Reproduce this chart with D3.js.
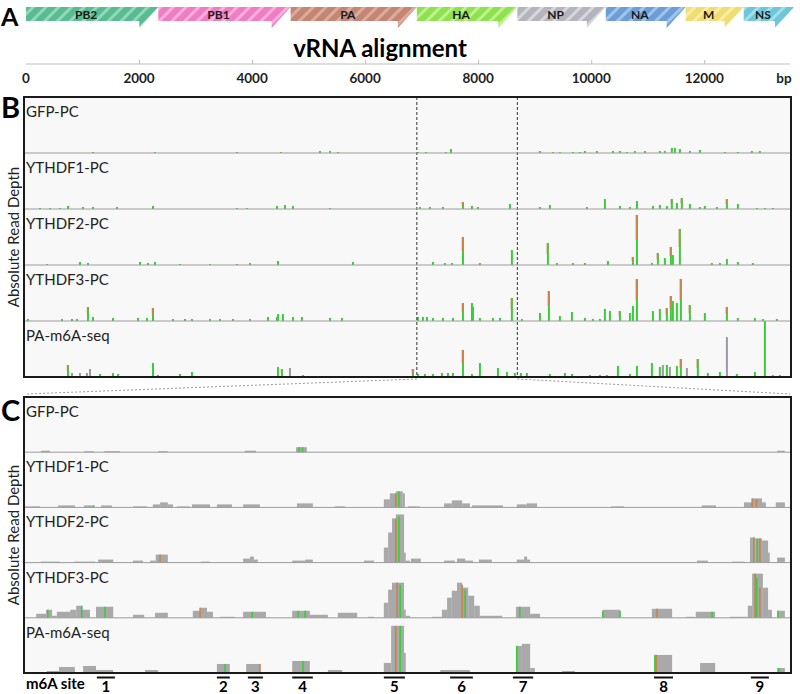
<!DOCTYPE html>
<html>
<head>
<meta charset="utf-8">
<script src="https://cdn.jsdelivr.net/npm/d3@7"></script>
<style>
  body { margin: 0; background: #fff; }
  svg text { font-family: Lato, "Open Sans", sans-serif; }
</style>
</head>
<body>
<svg id="fig" width="800" height="694"></svg>
<script>
// ---- data ----
var genes = ["PB2", "PB1", "PA", "HA", "NP", "NA", "M", "NS"];
var geneLengths = [2341, 2341, 2233, 1778, 1565, 1413, 1027, 890];
var axisTicks = [0, 2000, 4000, 6000, 8000, 10000, 12000];
var trackNames = ["GFP-PC", "YTHDF1-PC", "YTHDF2-PC", "YTHDF3-PC", "PA-m6A-seq"];

// whole genome peaks: [bp, depth, type]  g = green, b = green+brown, o = grey
var genomeGFP = [[1185,1,"g"],[2282,1,"g"],[3733,1,"g"],[4511,1,"g"],[5201,2,"g"],[5378,2,"g"],[5519,1,"g"],
  [6934,1,"g"],[7076,1,"g"],[7430,1,"g"],[7518,4,"g"],[9093,2,"g"],[9323,1,"g"],[9446,1,"g"],[9676,1,"g"],
  [9800,1,"g"],[9889,2,"g"],[10101,2,"g"],[10384,2,"g"],[10508,2,"g"],[10632,1,"g"],[10773,2,"g"],[10950,2,"g"],
  [11215,2,"g"],[11303,2,"g"],[11427,5,"g"],[11481,5,"g"],[11569,4,"g"],[11746,2,"g"],[11923,3,"g"],
  [12366,1,"g"],[12595,1,"g"],[12843,2,"g"],[12984,2,"g"]];
var genomeDF1 = [[248,1,"g"],[425,1,"g"],[601,1,"g"],[743,3,"g"],[1008,2,"g"],[1185,2,"g"],[1610,2,"g"],[2247,3,"g"],
  [3733,1,"g"],[3909,1,"g"],[4440,3,"g"],[4582,4,"g"],[4723,3,"g"],[5378,1,"g"],[6970,2,"g"],[7147,2,"g"],
  [7377,2,"g"],[7731,7,"b"],[7890,3,"g"],[7996,2,"g"],[8562,5,"g"],[9093,2,"g"],[9269,4,"g"],[9924,2,"g"],
  [10242,10,"g"],[10508,3,"g"],[10685,2,"g"],[10809,8,"g"],[11092,3,"g"],[11215,4,"g"],[11339,3,"g"],
  [11427,10,"b"],[11516,6,"g"],[11604,11,"b"],[11746,5,"g"],[11923,2,"g"],[12011,3,"g"],[12224,2,"g"],
  [12401,10,"b"],[12595,5,"g"],[12931,1,"g"],[13073,1,"g"],[13214,1,"g"]];
var genomeDF2 = [[371,1,"g"],[955,3,"g"],[1097,2,"g"],[2017,3,"g"],[2158,2,"g"],[2282,3,"g"],[2724,1,"g"],
  [3255,1,"g"],[3733,1,"g"],[3963,2,"g"],[4458,4,"g"],[5785,3,"g"],[7200,3,"g"],[7412,2,"g"],[7536,2,"g"],
  [7731,28,"b"],[8031,2,"g"],[8597,15,"g"],[9234,22,"b"],[9393,2,"g"],[9676,2,"g"],[9889,2,"g"],[10296,4,"g"],
  [10738,8,"b"],[10809,50,"b"],[11074,2,"g"],[11180,12,"b"],[11303,7,"g"],[11410,18,"b"],[11445,10,"g"],
  [11569,36,"b"],[12135,2,"g"],[12277,2,"g"],[12401,6,"g"],[12595,3,"g"],[12860,2,"g"]];
var genomeDF3 = [[35,2,"g"],[637,2,"g"],[814,2,"g"],[902,2,"g"],[1097,14,"b"],[1185,4,"g"],[1539,3,"g"],
  [1981,3,"g"],[2140,3,"g"],[2247,13,"b"],[2600,2,"g"],[2813,2,"g"],[2936,2,"g"],[3255,2,"g"],[3432,2,"g"],
  [3662,2,"g"],[3963,2,"g"],[4281,4,"g"],[4440,4,"g"],[4458,7,"g"],[4546,7,"g"],[4723,4,"g"],[4882,4,"g"],
  [5378,3,"g"],[5590,3,"g"],[6934,4,"g"],[7023,4,"g"],[7094,4,"g"],[7200,3,"g"],[7377,3,"g"],[7554,3,"g"],
  [7731,18,"b"],[7890,18,"g"],[7908,14,"g"],[8031,3,"g"],[8261,3,"g"],[8385,3,"g"],[8597,23,"b"],[8774,2,"g"],
  [9093,8,"g"],[9252,30,"b"],[9446,5,"g"],[9659,9,"g"],[9889,3,"g"],[10030,2,"g"],[10154,2,"g"],[10242,12,"g"],
  [10331,10,"g"],[10508,10,"b"],[10685,8,"g"],[10738,15,"g"],[10809,42,"b"],[11092,10,"g"],[11215,12,"g"],
  [11339,13,"b"],[11410,25,"b"],[11445,20,"g"],[11516,18,"g"],[11587,42,"b"],[11746,16,"b"],[12011,8,"g"],
  [12401,14,"b"],[12595,3,"g"],[12896,3,"g"],[13037,2,"g"],[13285,2,"g"]];
var genomePA = [[124,1,"g"],[283,1,"g"],[743,12,"b"],[814,4,"o"],[955,4,"o"],[1079,4,"o"],[1132,8,"o"],
  [1309,3,"g"],[1539,4,"g"],[1628,3,"g"],[2247,14,"g"],[2335,2,"g"],[2724,3,"g"],[2936,5,"g"],[4458,10,"g"],
  [4529,8,"b"],[4670,9,"o"],[4900,2,"g"],[6846,8,"b"],[6934,3,"g"],[7058,3,"g"],[7200,3,"g"],[7359,4,"g"],
  [7465,4,"g"],[7554,4,"g"],[7731,27,"b"],[7890,3,"g"],[8031,14,"g"],[8350,9,"g"],[8509,5,"g"],[8650,4,"g"],
  [8756,4,"g"],[8862,4,"g"],[9269,3,"g"],[9535,4,"g"],[9659,3,"g"],[9977,2,"g"],[10154,2,"g"],[10278,2,"g"],
  [10473,11,"g"],[10685,3,"g"],[10809,11,"g"],[11074,14,"g"],[11215,10,"g"],[11268,12,"o"],[11339,12,"g"],
  [11392,10,"o"],[11516,11,"g"],[11587,18,"b"],[11693,9,"o"],[11887,18,"b"],[12064,4,"g"],[12277,5,"g"],
  [12401,40,"o"],[12577,3,"g"],[12896,5,"g"],[13073,56,"g"],[13214,2,"g"],[13338,2,"g"]];

// HA segment coverage blocks: [start nt, end nt, depth]
var haGFP = [[37,58,1.5],[137,160,1],[184,221,1],[309,332,1],[511,537,1.5],[630,655,5],[1748,1766,1.5]];
var haDF1 = [[0,35,1],[77,116,2],[137,160,2],[177,202,2],[251,284,1],[297,314,3],[314,332,5],[332,344,3],
  [353,383,1],[388,430,3],[446,481,3],[507,546,3],[632,669,4],[720,744,1],[834,848,8],[848,862,14],
  [862,878,16],[878,883,14],[890,918,1],[974,992,4],[992,1016,7],[1016,1034,4],[1039,1111,2],[1143,1166,3],
  [1166,1190,4],[1362,1392,1],[1573,1606,2],[1671,1690,5],[1690,1713,9],[1713,1722,5],[1745,1766,5]];
var haDF2 = [[37,81,1],[114,163,1],[170,205,3],[251,274,2],[291,304,2],[304,332,8],[409,430,1],[507,523,4],
  [523,532,6],[532,541,3],[621,651,2],[651,669,3],[788,811,2],[834,844,15],[844,853,30],[853,862,44],
  [862,881,48],[881,885,10],[885,895,2],[897,920,4],[974,999,2],[1004,1023,4],[1023,1041,2],[1055,1085,3],
  [1143,1160,3],[1160,1167,6],[1167,1174,3],[1562,1587,2],[1643,1673,1],[1685,1697,25],[1697,1713,24],
  [1713,1727,22],[1727,1731,10],[1748,1766,5]];
var haDF3 = [[26,49,4],[49,63,8],[63,74,2],[74,105,6],[105,119,8],[119,132,12],[132,151,8],[165,205,11],
  [251,277,3],[302,332,5],[390,407,7],[407,423,10],[423,437,6],[453,488,1],[507,560,6],[621,662,7],
  [662,704,3],[727,772,5],[797,811,1],[834,844,15],[844,853,28],[853,881,35],[881,885,8],[885,895,2],
  [946,969,1],[969,981,8],[981,992,20],[992,1004,27],[1004,1016,35],[1016,1030,30],[1030,1044,22],
  [1044,1057,12],[1057,1109,2],[1141,1174,11],[1174,1197,4],[1343,1383,8],[1457,1504,9],[1536,1557,1],
  [1559,1604,6],[1638,1680,1],[1680,1690,12],[1690,1715,44],[1715,1727,30],[1727,1736,8],[1748,1766,7]];
var haPA = [[51,79,2],[79,116,6],[135,165,7],[165,205,3],[279,309,3],[370,395,1],[446,476,9],[514,546,9],
  [621,662,12],[704,737,3],[779,802,1],[834,851,10],[851,881,47],[881,885,20],[965,1034,3],[1034,1104,1],
  [1141,1155,27],[1155,1174,29],[1174,1185,5],[1248,1278,2],[1348,1383,1],[1464,1504,18],[1569,1604,10],
  [1685,1708,1],[1748,1766,5]];

// coloured base calls inside the HA coverage: [nt, depth, type]
var haMarksGFP = [[637,5,"g"],[645,5,"g"]];
var haMarksDF1 = [[160,2,"g"],[862,14,"b"],[869,16,"g"],[1690,9,"b"],[1700,8,"b"]];
var haMarksDF2 = [[314,8,"b"],[862,44,"b"],[869,46,"g"],[1694,25,"b"],[1702,24,"g"],[1708,24,"b"]];
var haMarksDF3 = [[53,8,"g"],[132,12,"g"],[186,11,"g"],[407,10,"b"],[528,6,"g"],[635,7,"g"],[651,7,"g"],
  [865,35,"b"],[872,33,"g"],[1016,33,"b"],[1023,28,"g"],[1150,11,"g"],[1343,7,"g"],[1383,7,"g"],
  [1469,9,"b"],[1597,6,"g"],[1697,44,"b"],[1701,40,"g"],[1708,30,"b"],[1750,7,"g"]];
var haMarksPA = [[465,9,"g"],[546,9,"b"],[646,12,"g"],[862,47,"b"],[872,47,"g"],[1143,27,"g"],
  [1464,18,"g"],[1467,18,"b"],[1752,5,"g"]];

var siteLabels = ["1", "2", "3", "4", "5", "6", "7", "8", "9"];
var siteStarts = [167, 446, 518, 621, 834, 988, 1134, 1462, 1687];
var siteEnds = [209, 476, 553, 669, 883, 1041, 1181, 1506, 1729];

// ---- styles ----
var geneFill = ["#58bb92", "#f07cc4", "#c48672", "#8ee24e", "#b4b4bc", "#6b9ed6", "#f0dc70", "#6dc7d9"];
var geneStripe = ["#92d8ba", "#f8b0da", "#dcab9c", "#bff092", "#d6d6dc", "#a2c3ea", "#f8eda6", "#a6deeb"];
var GREEN = "#3acd3a", BROWN = "#c8844c", GREYPK = "#9d98a4", BLOCK = "#a9a9a9";

var svg = d3.select("#fig");
var defs = svg.append("defs");

var starts = d3.cumsum([0].concat(geneLengths)).slice(0, genes.length);
var total = d3.sum(geneLengths);
var xG = d3.scaleLinear().domain([0, total]).range([26, 794]);

// stripe patterns
genes.forEach(function(g, i){
  var p = defs.append("pattern").attr("id", "st" + i).attr("patternUnits", "userSpaceOnUse")
    .attr("width", 9).attr("height", 9).attr("patternTransform", "rotate(45)");
  p.append("rect").attr("width", 9).attr("height", 9).attr("fill", geneFill[i]);
  p.append("rect").attr("width", 3).attr("height", 9).attr("fill", geneStripe[i]);
});

// ---- panel A ----
var gA = svg.append("g");
gA.selectAll("polygon.gene").data(genes).join("polygon")
  .attr("class", "gene")
  .attr("points", function(d, i){
    var x0 = xG(starts[i]), x1 = xG(starts[i] + geneLengths[i]);
    return [[x0,7],[x1,7],[x1-19,28],[x1-19,21],[x0,21]].join(" ");
  })
  .attr("fill", function(d, i){ return "url(#st" + i + ")"; });
gA.selectAll("text.gl").data(genes).join("text")
  .attr("class", "gl")
  .attr("x", function(d, i){ return (xG(starts[i]) + xG(starts[i] + geneLengths[i]) - 12) / 2; })
  .attr("y", 18.5).attr("text-anchor", "middle")
  .attr("font-size", 12).attr("font-weight", "bold").attr("fill", "#1a1a1a")
  .text(function(d){ return d; });

svg.append("text").attr("x", 1).attr("y", 26).attr("font-size", 25).attr("font-weight", "bold").text("A");
svg.append("text").attr("x", 380).attr("y", 57).attr("text-anchor", "middle")
  .attr("font-size", 24).attr("font-weight", "bold").text("vRNA alignment");

var axisG = svg.append("g").attr("transform", "translate(0,64)");
axisG.call(d3.axisTop(xG).tickValues(axisTicks.slice(1)).tickSize(4).tickFormat(""));
axisG.select(".domain").attr("d", "M26,0H790").attr("stroke", "#bdbdbd");
axisG.selectAll(".tick line").attr("stroke", "#bdbdbd");
svg.selectAll("text.tk").data(axisTicks).join("text").attr("class", "tk")
  .attr("x", function(d){ return xG(d); }).attr("y", 83).attr("text-anchor", "middle")
  .attr("font-size", 13.5).attr("font-weight", "bold").attr("fill", "#222")
  .text(function(d){ return d; });
svg.append("text").attr("x", 784).attr("y", 83).attr("text-anchor", "middle")
  .attr("font-size", 13.5).attr("font-weight", "bold").attr("fill", "#222").text("bp");

// ---- generic track panel ----
function panel(top, trackH, label, labelY, yLabelY){
  var left = 24, right = 791;
  svg.append("rect").attr("x", left).attr("y", top).attr("width", right - left).attr("height", trackH * 5)
    .attr("fill", "#f8f8f8");
  svg.append("text").attr("x", 1).attr("y", labelY).attr("font-size", 29).attr("font-weight", "bold").text(label);
  svg.append("text").attr("transform", "translate(19," + yLabelY + ") rotate(-90)")
    .attr("text-anchor", "middle").attr("font-size", 15).attr("fill", "#222").text("Absolute Read Depth");
  return { top: top, h: trackH, left: left, right: right };
}

function frame(p){
  var g = svg.append("g");
  d3.range(1, 5).forEach(function(k){
    g.append("line").attr("x1", p.left).attr("x2", p.right)
      .attr("y1", p.top + k * p.h).attr("y2", p.top + k * p.h).attr("stroke", "#9c9c9c").attr("stroke-width", 1);
  });
  trackNames.forEach(function(n, k){
    g.append("text").attr("x", p.left + 2).attr("y", p.top + k * p.h + 20)
      .attr("font-size", 15).attr("fill", "#222").text(n);
  });
  g.append("rect").attr("x", p.left).attr("y", p.top).attr("width", p.right - p.left).attr("height", p.h * 5)
    .attr("fill", "none").attr("stroke", "#1a1a1a").attr("stroke-width", 2);
}

// ---- panel B ----
var pB = panel(97, 56, "B", 118, 237);
var genomeTracks = [genomeGFP, genomeDF1, genomeDF2, genomeDF3, genomePA];
genomeTracks.forEach(function(data, k){
  var base = pB.top + (k + 1) * pB.h;
  var y = d3.scaleLinear().domain([0, 56]).range([base, base - pB.h]);
  var g = svg.append("g");
  g.selectAll("rect.pk").data(data).join("rect").attr("class", "pk")
    .attr("x", function(d){ return xG(d[0]) - 1; }).attr("width", 2)
    .attr("y", function(d){ return y(d[1]); })
    .attr("height", function(d){ return base - y(d[1]); })
    .attr("fill", function(d){ return d[2] === "o" ? GREYPK : GREEN; });
  g.selectAll("rect.br").data(data.filter(function(d){ return d[2] === "b"; })).join("rect").attr("class", "br")
    .attr("x", function(d){ return xG(d[0]) - 1.2; }).attr("width", 1.6)
    .attr("y", function(d){ return y(d[1]); })
    .attr("height", function(d){ return (base - y(d[1])) * 0.5; })
    .attr("fill", BROWN);
});
[starts[3], starts[3] + geneLengths[3]].forEach(function(b){
  svg.append("line").attr("x1", xG(b)).attr("x2", xG(b)).attr("y1", pB.top).attr("y2", pB.top + 5 * pB.h)
    .attr("stroke", "#333").attr("stroke-dasharray", "3,2").attr("stroke-width", 1);
});
frame(pB);

// zoom guide lines
svg.append("line").attr("x1", xG(starts[3])).attr("y1", 379).attr("x2", 26).attr("y2", 394)
  .attr("stroke", "#999").attr("stroke-dasharray", "2,2");
svg.append("line").attr("x1", xG(starts[3] + geneLengths[3])).attr("y1", 379).attr("x2", 790).attr("y2", 394)
  .attr("stroke", "#999").attr("stroke-dasharray", "2,2");

// ---- panel C ----
var pC = panel(397, 55.2, "C", 421, 535);
var xC = d3.scaleLinear().domain([0, geneLengths[3]]).range([25, 790]);
var haTracks = [haGFP, haDF1, haDF2, haDF3, haPA];
var haMarks = [haMarksGFP, haMarksDF1, haMarksDF2, haMarksDF3, haMarksPA];
haTracks.forEach(function(data, k){
  var base = pC.top + (k + 1) * pC.h;
  var y = d3.scaleLinear().domain([0, 55]).range([base, base - pC.h]);
  var g = svg.append("g");
  g.selectAll("rect.bl").data(data).join("rect").attr("class", "bl")
    .attr("x", function(d){ return xC(d[0]); })
    .attr("width", function(d){ return xC(d[1]) - xC(d[0]); })
    .attr("y", function(d){ return y(d[2]); })
    .attr("height", function(d){ return base - y(d[2]); })
    .attr("fill", BLOCK);
  g.selectAll("rect.mk").data(haMarks[k]).join("rect").attr("class", "mk")
    .attr("x", function(d){ return xC(d[0]) - 0.8; }).attr("width", 1.6)
    .attr("y", function(d){ return y(d[1]); })
    .attr("height", function(d){ return base - y(d[1]); })
    .attr("fill", function(d){ return d[2] === "b" ? BROWN : GREEN; });
});
frame(pC);

// m6A sites
svg.append("text").attr("x", 26).attr("y", 689).attr("font-size", 15).attr("font-weight", "bold").text("m6A site");
svg.selectAll("line.site").data(siteLabels).join("line").attr("class", "site")
  .attr("x1", function(d, i){ return xC(siteStarts[i]); })
  .attr("x2", function(d, i){ return xC(siteEnds[i]); })
  .attr("y1", 677.5).attr("y2", 677.5).attr("stroke", "#111").attr("stroke-width", 2);
svg.selectAll("text.site").data(siteLabels).join("text").attr("class", "site")
  .attr("x", function(d, i){ return xC((siteStarts[i] + siteEnds[i]) / 2); })
  .attr("y", 692).attr("text-anchor", "middle").attr("font-size", 15).attr("font-weight", "bold")
  .text(function(d){ return d; });
</script>
</body>
</html>
